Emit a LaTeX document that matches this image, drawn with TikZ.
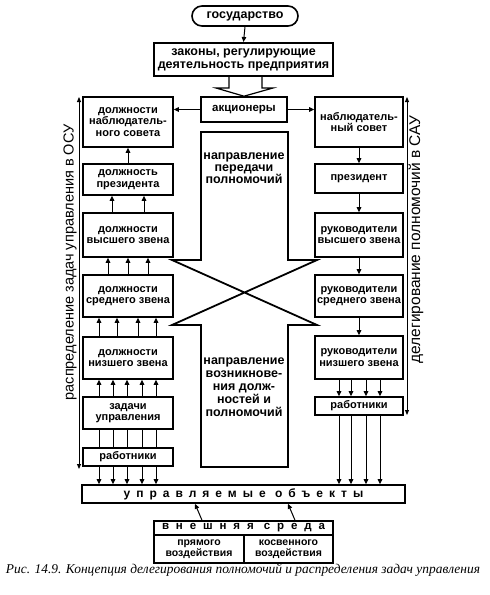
\documentclass[tikz,border=0pt]{standalone}
\usepackage{fontspec}
\setmainfont{Liberation Sans}
\newfontfamily\capfont{Liberation Serif}
\usetikzlibrary{arrows.meta}
\tikzset{
  box/.style={draw, line width=1.6pt, align=center, inner sep=0pt,
    font=\bfseries\fontsize{11}{11.5}\selectfont},
  arr/.style={line width=1pt, -{Triangle[length=5pt,width=4.5pt]}},
  plain/.style={line width=1pt},
  side/.style={line width=0.9pt, {Triangle[length=5pt,width=4pt]}-{Triangle[length=5pt,width=4pt]}},
  sidetext/.style={rotate=90, font=\fontsize{14.5}{14.5}\selectfont},
  bigtext/.style={align=center, font=\bfseries\fontsize{12.5}{12}\selectfont},
}
\begin{document}
\begin{tikzpicture}[x=1pt,y=-1pt]
\useasboundingbox (0,0) rectangle (490,595);
% top
\node[box, rounded corners=10pt, minimum width=106pt, minimum height=20pt, font=\bfseries\fontsize{12.5}{13}\selectfont] (G) at (245,16) {государство};
\node[box, line width=2pt, minimum width=179pt, minimum height=33pt, font=\bfseries\fontsize{12.5}{13}\selectfont] (Z) at (243.5,59.5) {законы, регулирующие\\деятельность предприятия};
\node[box, minimum width=86pt, minimum height=25pt, font=\bfseries\fontsize{11.5}{12}\selectfont] (A) at (244,109.5) {акционеры};
\draw[arr] (G.south) -- (Z.north);
\draw[line width=1.2pt, line join=miter] (Z.south -| 229,0) -- (229,88) -- (216,88) -- (A.north) -- (273,88) -- (262,88) -- (Z.south -| 262,0);
% left column
\node[box, minimum width=90pt, minimum height=50pt] (L1) at (128,122) {должности\\наблюдатель-\\ного совета};
\node[box, minimum width=90pt, minimum height=31pt] (L2) at (128,179.5) {должность\\президента};
\node[box, minimum width=90pt, minimum height=44pt] (L3) at (128,235) {должности\\высшего звена};
\node[box, minimum width=90pt, minimum height=42pt] (L4) at (128,296) {должности\\среднего звена};
\node[box, minimum width=90pt, minimum height=42pt] (L5) at (128,358) {должности\\низшего звена};
\node[box, minimum width=90pt, minimum height=32pt] (L6) at (128,413) {задачи\\управления};
\node[box, minimum width=90pt, minimum height=18pt] (L7) at (128,457) {работники};
% right column
\node[box, minimum width=88pt, minimum height=50pt] (R1) at (359,122) {наблюдатель-\\ный совет};
\node[box, minimum width=88pt, minimum height=29pt] (R2) at (359,178.5) {президент};
\node[box, minimum width=88pt, minimum height=44pt] (R3) at (359,235) {руководители\\высшего звена};
\node[box, minimum width=88pt, minimum height=42pt] (R4) at (359,296) {руководители\\среднего звена};
\node[box, minimum width=88pt, minimum height=43pt] (R5) at (359,357.5) {руководители\\низшего звена};
\node[box, minimum width=88pt, minimum height=18pt] (R6) at (359,406) {работники};
% bottom
\node[box, minimum width=323pt, minimum height=18pt, font=\bfseries\fontsize{12}{12}\selectfont\addfontfeature{LetterSpace=50}] (U) at (243.5,494) {управляемые объекты};
\node[box, minimum width=179pt, minimum height=14pt, font=\bfseries\fontsize{11.5}{11.5}\selectfont\addfontfeature{LetterSpace=60}] (E) at (243.5,528) {внешняя среда};
\node[box, minimum width=90pt, minimum height=28pt, font=\bfseries\fontsize{10.5}{11.5}\selectfont] (E1) at (199,549) {прямого\\воздействия};
\node[box, minimum width=89pt, minimum height=28pt, font=\bfseries\fontsize{10.5}{11.5}\selectfont] (E2) at (288.5,549) {косвенного\\воздействия};
\draw[arr] (E.north -| 202,0) -- (U.south -| 195,0);
\draw[arr] (E.north -| 295,0) -- (U.south -| 288,0);
% aкционеры arrows
\draw[arr] (A.west) -- (L1.east |- A.west);
\draw[arr] (A.east) -- (R1.west |- A.east);
% left arrows
\draw[arr] (L2.north) -- (L1.south);
\foreach \x in {112,144} \draw[arr] (L3.north -| \x,0) -- (L2.south -| \x,0);
\foreach \x in {108,128,148} \draw[arr] (L4.north -| \x,0) -- (L3.south -| \x,0);
\foreach \x in {99,117,138,156} \draw[arr] (L5.north -| \x,0) -- (L4.south -| \x,0);
\foreach \x in {99,113,127,142,156} {
  \draw[arr] (L6.north -| \x,0) -- (L5.south -| \x,0);
  \draw[plain] (L6.south -| \x,0) -- (L7.north -| \x,0);
  \draw[arr] (L7.south -| \x,0) -- (U.north -| \x,0);
}
% right arrows
\draw[arr] (R1.south) -- (R2.north);
\draw[arr] (R2.south) -- (R3.north);
\draw[arr] (R3.south) -- (R4.north);
\draw[arr] (R4.south) -- (R5.north);
\foreach \x in {339,351,366,380} {
  \draw[arr] (R5.south -| \x,0) -- (R6.north -| \x,0);
  \draw[arr] (R6.south -| \x,0) -- (U.north -| \x,0);
}
% big crossing arrows
\draw[line width=1.8pt, line join=miter] (201,260) -- (201,132) -- (288,132) -- (288,260) -- (317,260) -- (172,325) -- (201,325) -- (201,467) -- (288,467) -- (288,325) -- (317,325) -- (172,260) -- cycle;
\node[bigtext] (T1) at (244,168) {направление\\передачи\\полномочий};
\node[bigtext, font=\bfseries\fontsize{12.5}{13}\selectfont] (T2) at (244,387) {направление\\возникнове-\\ния долж-\\ностей и\\полномочий};
% side lines
\coordinate (LS1) at (79,97);
\coordinate (LS2) at (79,469);
\coordinate (RS1) at (407,97);
\coordinate (RS2) at (407,415);
\draw[side] (LS1) -- (LS2);
\draw[side] (RS1) -- (RS2);
\node[sidetext] (ST1) at (70,262.5) {распределение задач управления в ОСУ};
\node[sidetext, font=\fontsize{15.5}{15.5}\selectfont] (ST2) at (416,239.5) {делегирование полномочий в САУ};
% caption
\node[font=\capfont\itshape\fontsize{13.4}{13.4}\selectfont] (CAP) at (243,570) {Рис. 14.9. Концепция делегирования полномочий и распределения задач управления};
\end{tikzpicture}
\end{document}
